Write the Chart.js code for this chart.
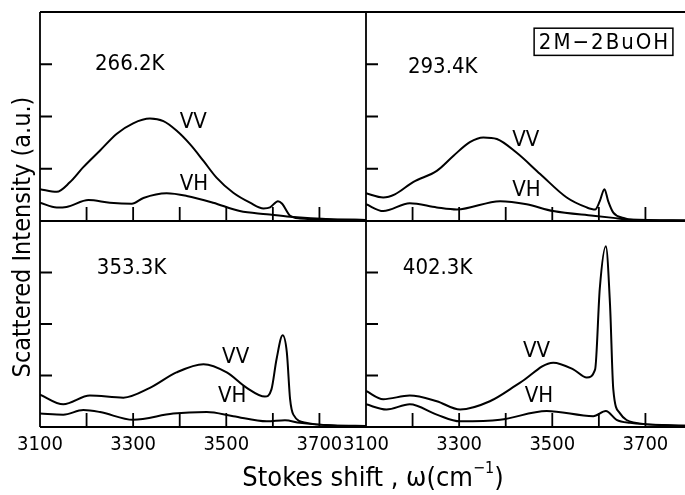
<!DOCTYPE html>
<html>
<head>
<meta charset="utf-8">
<script src="https://cdn.jsdelivr.net/npm/chart.js@4/dist/chart.umd.min.js"></script>
<style>
  html, body { margin: 0; padding: 0; background: #fff; overflow: hidden; }
  canvas { display: block; }
</style>
</head>
<body>
<canvas id="spectra" width="700" height="495"></canvas>
<script>
const FONT = '"Liberation Sans Narrow", "DejaVu Sans Condensed", "Roboto", sans-serif';

// Stokes shift axis: a tick every 100 cm^-1, numbers every 200
const xTickLabels = [3100, 3300, 3500, 3700];
const panelTemps = ['266.2K', '293.4K', '353.3K', '402.3K'];
const polarisations = ['VV', 'VH'];
const sampleName = '2M\u22122BuOH';

// [Stokes shift (cm^-1), scattered intensity (a.u.)]
const vv266 = [[3100,0.61],[3136,0.56],[3164,0.74],[3193,1.03],[3229,1.35],[3265,1.67],[3300,1.87],[3336,1.96],[3365,1.91],[3393,1.73],[3422,1.47],[3451,1.15],[3479,0.83],[3515,0.54],[3551,0.35],[3580,0.24],[3594,0.26],[3611,0.38],[3620,0.33],[3637,0.10],[3658,0.05],[3730,0.03],[3800,0.02]];
const vh266 = [[3100,0.35],[3136,0.26],[3157,0.27],[3204,0.40],[3250,0.35],[3297,0.33],[3322,0.44],[3372,0.53],[3415,0.48],[3472,0.35],[3529,0.19],[3587,0.13],[3637,0.08],[3730,0.03],[3800,0.02]];

const vv293 = [[3100,0.53],[3137,0.45],[3162,0.51],[3202,0.75],[3252,0.96],[3288,1.25],[3323,1.51],[3352,1.60],[3381,1.57],[3423,1.31],[3474,0.90],[3531,0.45],[3574,0.26],[3592,0.22],[3602,0.38],[3612,0.61],[3620,0.38],[3631,0.16],[3653,0.06],[3674,0.02],[3800,0.01]];
const vh293 = [[3100,0.32],[3137,0.19],[3194,0.34],[3252,0.26],[3295,0.22],[3388,0.38],[3445,0.32],[3502,0.19],[3588,0.10],[3631,0.06],[3667,0.03],[3800,0.01]];

const vv353 = [[3100,0.63],[3150,0.44],[3207,0.61],[3279,0.57],[3336,0.76],[3393,1.06],[3451,1.22],[3501,1.06],[3544,0.76],[3583,0.59],[3597,0.73],[3608,1.32],[3621,1.78],[3630,1.45],[3637,0.54],[3644,0.24],[3673,0.08],[3730,0.03],[3800,0.02]];
const vh353 = [[3100,0.26],[3150,0.24],[3193,0.33],[3229,0.29],[3300,0.14],[3386,0.26],[3458,0.29],[3515,0.21],[3587,0.11],[3626,0.13],[3658,0.08],[3730,0.03],[3800,0.02]];

const vv402 = [[3100,0.70],[3137,0.54],[3194,0.61],[3252,0.50],[3302,0.34],[3366,0.50],[3431,0.86],[3502,1.25],[3545,1.12],[3574,0.96],[3592,1.12],[3602,2.69],[3615,3.51],[3624,2.37],[3631,0.73],[3645,0.27],[3674,0.09],[3760,0.03],[3800,0.02]];
const vh402 = [[3100,0.44],[3144,0.34],[3194,0.44],[3252,0.24],[3302,0.11],[3388,0.14],[3488,0.31],[3588,0.21],[3615,0.31],[3638,0.14],[3667,0.08],[3760,0.03],[3800,0.02]];

// panel layout: which x / y scale each temperature uses
const panels = [
  { temp: panelTemps[0], vv: vv266, vh: vh266, x: 'xL', y: 'yT', tempAt: [3218, 3.0], vvAt: [3400, 1.88], vhAt: [3400, 0.70] },
  { temp: panelTemps[1], vv: vv293, vh: vh293, x: 'xR', y: 'yT', tempAt: [3190, 2.95], vvAt: [3414, 1.55], vhAt: [3414, 0.59] },
  { temp: panelTemps[2], vv: vv353, vh: vh353, x: 'xL', y: 'yB', tempAt: [3222, 3.08], vvAt: [3491, 1.36], vhAt: [3482, 0.59] },
  { temp: panelTemps[3], vv: vv402, vh: vh402, x: 'xR', y: 'yB', tempAt: [3179, 3.08], vvAt: [3437, 1.47], vhAt: [3441, 0.60] }
];

const toPoints = arr => arr.map(([x, y]) => ({ x, y }));

const datasets = [];
panels.forEach(p => {
  [['VV', p.vv], ['VH', p.vh]].forEach(([pol, arr]) => {
    datasets.push({
      label: p.temp + ' ' + pol,
      data: toPoints(arr),
      xAxisID: p.x,
      yAxisID: p.y,
      borderColor: '#000',
      borderWidth: 2,
      pointRadius: 0,
      fill: false,
      cubicInterpolationMode: 'monotone'
    });
  });
});

const xScale = () => ({
  type: 'linear',
  position: 'bottom',
  stack: 'shift',
  stackWeight: 1,
  min: 3100,
  max: 3800,
  grid: { display: false, drawTicks: false },
  border: { display: false },
  ticks: {
    stepSize: 100,
    autoSkip: false,
    maxRotation: 0,
    padding: 6,
    color: '#000',
    font: { family: FONT, size: 20 },
    callback: v => xTickLabels.includes(v) ? String(v) : ''
  }
});

const yScale = weight => ({
  type: 'linear',
  position: 'left',
  stack: 'intensity',
  stackWeight: weight,
  min: 0,
  max: 4,
  grid: { display: false, drawTicks: false },
  border: { display: false },
  ticks: { display: false, stepSize: 1 }
});

function drawText(ctx, text, x, y, size, align) {
  ctx.font = size + 'px ' + FONT;
  ctx.textAlign = align || 'left';
  ctx.textBaseline = 'middle';
  ctx.fillText(text, x, y);
}

// frame, inward ticks and annotations of the four panels
const panelFrame = {
  id: 'panelFrame',
  afterDatasetsDraw(chart) {
    const { ctx } = chart;
    const s = chart.scales;
    const L = s.xL.left, M = s.xR.left, R = s.xR.right;
    const T = s.yT.top, Mid = s.yB.top, B = s.yB.bottom;

    ctx.save();
    ctx.strokeStyle = '#000';
    ctx.lineWidth = 1.8;
    ctx.beginPath();
    ctx.moveTo(L, T); ctx.lineTo(R, T);
    ctx.moveTo(L, Mid); ctx.lineTo(R, Mid);
    ctx.moveTo(L, B); ctx.lineTo(R, B);
    ctx.moveTo(L, T); ctx.lineTo(L, B);
    ctx.moveTo(M, T); ctx.lineTo(M, B);

    [s.yT, s.yB].forEach(ys => {
      ys.ticks.forEach(t => {
        if (t.value <= ys.min || t.value >= ys.max) return;
        const py = ys.getPixelForValue(t.value);
        [L, M].forEach(x0 => { ctx.moveTo(x0, py); ctx.lineTo(x0 + 12, py); });
      });
    });
    [s.xL, s.xR].forEach(xs => {
      xs.ticks.forEach(t => {
        if (t.value <= xs.min || t.value >= xs.max) return;
        const px = xs.getPixelForValue(t.value);
        [Mid, B].forEach(y0 => { ctx.moveTo(px, y0); ctx.lineTo(px, y0 - 14); });
      });
    });
    ctx.stroke();

    ctx.fillStyle = '#000';
    panels.forEach(p => {
      const xs = s[p.x], ys = s[p.y];
      drawText(ctx, p.temp, xs.getPixelForValue(p.tempAt[0]), ys.getPixelForValue(p.tempAt[1]), 22);
      drawText(ctx, polarisations[0], xs.getPixelForValue(p.vvAt[0]), ys.getPixelForValue(p.vvAt[1]), 22);
      drawText(ctx, polarisations[1], xs.getPixelForValue(p.vhAt[0]), ys.getPixelForValue(p.vhAt[1]), 22);
    });

    // sample name in a box, upper right panel
    ctx.font = '22px ' + FONT;
    ctx.letterSpacing = '2px';
    const bx = s.xR.getPixelForValue(3461), by0 = s.yT.getPixelForValue(3.69), by1 = s.yT.getPixelForValue(3.17);
    const bw = s.xR.getPixelForValue(3759) - bx;
    ctx.textAlign = 'center';
    ctx.textBaseline = 'middle';
    ctx.fillText(sampleName, bx + bw / 2 + 1, (by0 + by1) / 2 + 1);
    ctx.letterSpacing = '0px';
    ctx.lineWidth = 1.5;
    ctx.strokeRect(bx, by0, bw, by1 - by0);

    // axis titles
    const cx = (L + R) / 2 + 7, ty = B + 52;
    ctx.font = '27px ' + FONT;
    const main = 'Stokes shift , \u03c9(cm', sup = '\u22121', close = ')';
    const wMain = ctx.measureText(main).width;
    ctx.font = '16px ' + FONT;
    const wSup = ctx.measureText(sup).width;
    ctx.font = '27px ' + FONT;
    const wClose = ctx.measureText(close).width;
    let x0 = cx - (wMain + wSup + wClose) / 2;
    ctx.textAlign = 'left';
    ctx.textBaseline = 'middle';
    ctx.fillText(main, x0, ty);
    ctx.font = '16px ' + FONT;
    ctx.fillText(sup, x0 + wMain, ty - 10);
    ctx.font = '27px ' + FONT;
    ctx.fillText(close, x0 + wMain + wSup, ty);

    ctx.translate(23, 237);
    ctx.rotate(-Math.PI / 2);
    drawText(ctx, 'Scattered Intensity (a.u.)', 0, 0, 25, 'center');
    ctx.restore();
  }
};

new Chart(document.getElementById('spectra'), {
  type: 'line',
  data: { datasets },
  options: {
    responsive: false,
    animation: false,
    parsing: true,
    layout: { padding: { left: 40, top: 12, right: 8, bottom: 32 } },
    plugins: { legend: { display: false }, tooltip: { enabled: false } },
    scales: {
      xL: xScale(),
      xR: xScale(),
      yB: yScale(205),
      yT: yScale(208)
    }
  },
  plugins: [panelFrame]
});
</script>
</body>
</html>
